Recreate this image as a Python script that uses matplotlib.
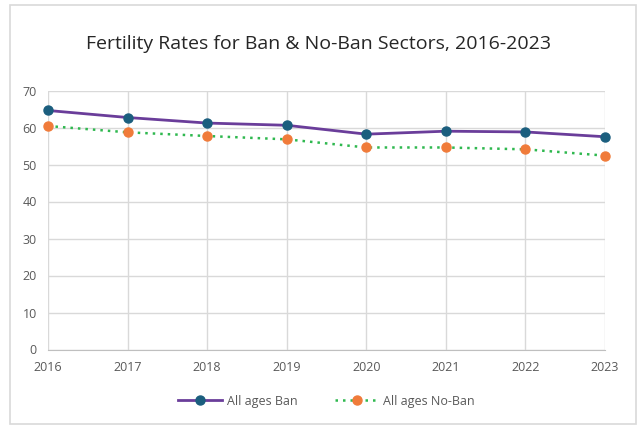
import matplotlib
matplotlib.use("Agg")
import matplotlib.pyplot as plt
from matplotlib.patches import Rectangle

years = [2016, 2017, 2018, 2019, 2020, 2021, 2022, 2023]
ban = [64.6, 62.7, 61.2, 60.6, 58.2, 59.0, 58.8, 57.5]
no_ban = [60.4, 58.7, 57.7, 56.8, 54.6, 54.6, 54.1, 52.4]
y_ticks = [0, 10, 20, 30, 40, 50, 60, 70]

plt.rcParams['font.family'] = ['Open Sans', 'DejaVu Sans']

fig = plt.figure(figsize=(6.37, 4.25), dpi=100)
fig.patches.append(Rectangle((10 / 637, 1 / 425), 626 / 637, 419 / 425,
                             transform=fig.transFigure, fill=False,
                             edgecolor='#d9d9d9', linewidth=1.2))

ax = fig.add_axes([48 / 637, 1 - 349.5 / 425, 557 / 637, 259 / 425])

ax.plot(years, ban, color='#6a3d9a', linewidth=2, marker='o', markersize=6.5,
        markerfacecolor='#1b5e7e', markeredgecolor='#1b5e7e', label='All ages Ban',
        zorder=3, clip_on=False)
ax.plot(years, no_ban, color='#2fb84f', linewidth=1.8, linestyle=(0, (1, 2)),
        marker='o', markersize=6.5, markerfacecolor='#f07b3a',
        markeredgecolor='#f07b3a', label='All ages No-Ban', zorder=3, clip_on=False)

ax.set_xlim(2016, 2023)
ax.set_ylim(0, 70)
ax.set_xticks(years)
ax.set_yticks(y_ticks)
ax.grid(True, color='#d9d9d9', linewidth=1)
ax.set_axisbelow(True)
for s in ['top', 'right', 'left']:
    ax.spines[s].set_visible(False)
ax.spines['bottom'].set_color('#bfbfbf')
ax.tick_params(length=0, labelsize=9, labelcolor='#595959')
ax.tick_params(axis='x', pad=8)
ax.tick_params(axis='y', pad=8)

fig.text(0.5, 1 - 44 / 425, 'Fertility Rates for Ban & No-Ban Sectors, 2016-2023',
         ha='center', va='center', fontsize=14, color='#262626')

ax.legend(loc='center', bbox_to_anchor=(0.5, (1 - 401 / 425 - (1 - 349.5 / 425)) / (259 / 425)),
          bbox_transform=ax.transAxes, ncol=2, frameon=False, fontsize=9,
          labelcolor='#595959', handlelength=3.5, columnspacing=3, handletextpad=0.4)

fig.savefig('out.png', dpi=100)
